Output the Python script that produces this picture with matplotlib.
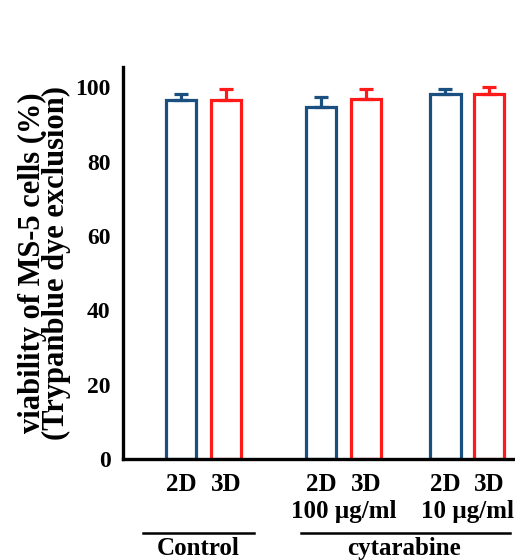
import numpy as np
import matplotlib
matplotlib.use("Agg")
import matplotlib.pyplot as plt

# data
conditions = ["2D", "3D", "2D", "3D", "2D", "3D"]
viability = [96.5, 96.5, 94.8, 96.8, 98.3, 98.3]
viability_err = [1.6, 3.0, 2.6, 2.8, 1.4, 1.8]
dose_labels = ["", "100 \u00b5g/ml", "10 \u00b5g/ml"]
group_labels = ["Control", "cytarabine"]
yticks = [0, 20, 40, 60, 80, 100]

plt.rcParams["font.family"] = ["Liberation Serif", "DejaVu Serif"]
plt.rcParams["font.weight"] = "bold"

blue = "#1b4f80"
red = "#ff1a1a"
colors = [blue, red] * 3
xpos = np.array([1.29, 2.29, 4.4, 5.4, 7.16, 8.13])

fig = plt.figure(figsize=(5.15, 5.6), dpi=100)
ax = fig.add_axes([123 / 515, 101 / 560, 405 / 515, 392 / 560])

for x, v, e, c in zip(xpos, viability, viability_err, colors):
    ax.bar(x, v, width=0.68, facecolor="white", edgecolor=c, linewidth=2.3, zorder=2)
    ax.errorbar(x, v, yerr=[[0], [e]], fmt="none", ecolor=c, elinewidth=2.3,
                capsize=5, capthick=2.3, zorder=3)

ax.set_xlim(0, 9)
ax.set_ylim(0, 105.5)
ax.set_yticks(yticks)
ax.set_yticklabels([str(t) for t in yticks], fontsize=17, fontweight="bold")
ax.tick_params(axis="y", length=0, pad=9)
ax.set_xticks([])
for s in ["top", "right"]:
    ax.spines[s].set_visible(False)
ax.spines["left"].set_linewidth(2.4)
ax.spines["bottom"].set_linewidth(2.4)

ax.set_ylabel("viability of MS-5 cells (%)\n(Trypanblue dye exclusion)",
              fontsize=22, fontweight="bold", linespacing=0.78, labelpad=3)

trans = ax.get_xaxis_transform()
for x, lab in zip(xpos, conditions):
    ax.text(x, -0.065, lab, transform=trans, ha="center", va="center",
            fontsize=18, fontweight="bold")
for i, lab in enumerate(dose_labels):
    if lab:
        cx = (xpos[2 * i] + xpos[2 * i + 1]) / 2
        ax.text(cx, -0.135, lab, transform=trans, ha="center", va="center",
                fontsize=18, fontweight="bold")

# group brackets
ax.plot([0.45, 2.9], [-0.19, -0.19], transform=trans, color="black",
        linewidth=1.8, clip_on=False)
ax.plot([3.95, 8.6], [-0.19, -0.19], transform=trans, color="black",
        linewidth=1.8, clip_on=False)
ax.text(1.67, -0.229, group_labels[0], transform=trans, ha="center", va="center",
        fontsize=18, fontweight="bold")
ax.text(6.25, -0.229, group_labels[1], transform=trans, ha="center", va="center",
        fontsize=18, fontweight="bold")

fig.savefig("out.png", dpi=100)
